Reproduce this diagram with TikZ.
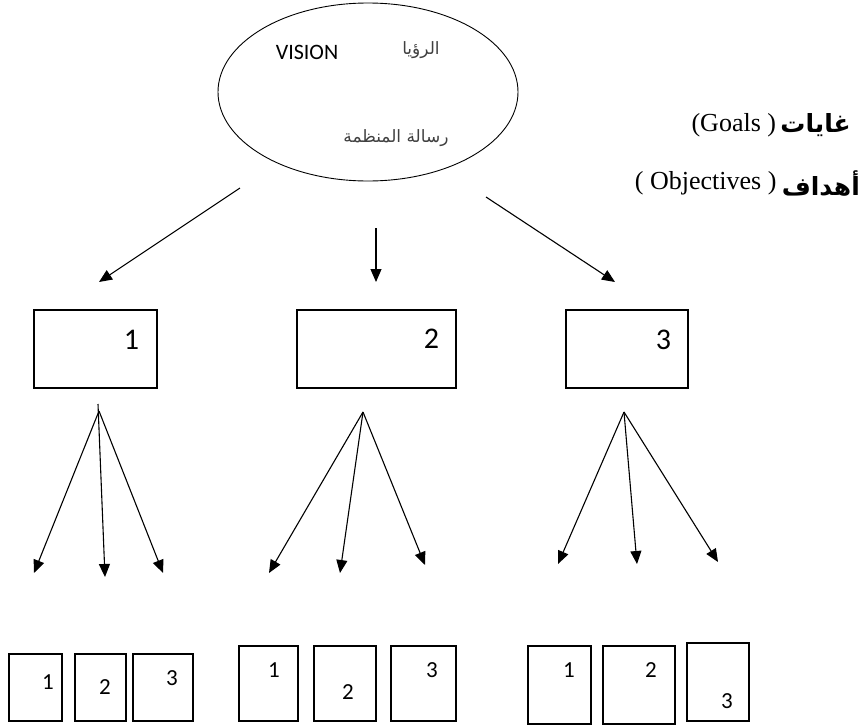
\documentclass[tikz,border=0pt]{standalone}
\usepackage{fontspec}
\setmainfont{Liberation Serif}
\setsansfont{Carlito}
\newfontfamily\arabicfont[Script=Arabic]{DejaVu Sans}
\TeXXeTstate=1
\usetikzlibrary{shapes.geometric,arrows.meta,positioning}

\tikzstyle{visionshape}=[ellipse, draw=black, line width=0.9pt, minimum width=300pt, minimum height=178pt, inner sep=0pt]
\tikzstyle{goalbox}=[rectangle, draw=black, line width=1.1pt, minimum height=78pt, inner sep=0pt]
\tikzstyle{objbox}=[rectangle, draw=black, line width=1.1pt, inner sep=0pt]
\tikzstyle{bignum}=[font=\sffamily\fontsize{30}{30}\selectfont, inner sep=0pt]
\tikzstyle{smallnum}=[font=\sffamily\fontsize{23}{23}\selectfont, inner sep=0pt]
\tikzstyle{sidetext}=[font=\fontsize{26}{26}\selectfont, inner sep=0pt]
\tikzstyle{sidear}=[font=\arabicfont\bfseries\fontsize{25}{25}\selectfont, inner sep=0pt, anchor=east]
\tikzstyle{arrow2}=[line width=1.1pt,-{Triangle[length=13pt,width=11pt]}]

\begin{document}
\begin{tikzpicture}[x=1pt, y=-1pt]
\useasboundingbox (0,0) rectangle (860,726);
\node (vision) [visionshape] at (368,92) {};
\node (visionen) at (307,52) [font=\sffamily\fontsize{22}{22}\selectfont] {VISION};
\node (visionar) at (421,50) [font=\arabicfont\fontsize{17}{17}\selectfont, text=black!75] {\beginR الرؤيا\endR};
\node (mission) at (396,138) [font=\arabicfont\fontsize{17}{17}\selectfont, text=black!75] {\beginR رسالة المنظمة\endR};
\node (goalsar) [sidear] at (851,125) {\beginR غايات\endR};
\node (goalsen) [sidetext, left=4pt of goalsar] {(Goals )};
\node (objectivesar) [sidear] at (860,183) {\beginR أهداف\endR};
\node (objectivesen) [sidetext, left=5pt of objectivesar] {( Objectives )};

% goals
\node (goal1) [goalbox, minimum width=123pt] at (95.5,349) {};
\node (goal2) [goalbox, minimum width=159pt] at (376.5,349) {};
\node (goal3) [goalbox, minimum width=122pt] at (627,349) {};
\node (num1) [bignum] at ([xshift=-26pt,yshift=-30pt]goal1.north east) {1};
\node (num2) [bignum] at ([xshift=-25pt,yshift=-29pt]goal2.north east) {2};
\node (num3) [bignum] at ([xshift=-25pt,yshift=-30pt]goal3.north east) {3};

\coordinate (s1) at (240,188);
\coordinate (e1) at (99,282);
\coordinate (s2) at (376,228);
\coordinate (e2) at (376,282);
\coordinate (s3) at (486,197);
\coordinate (e3) at (615,282);
\draw[arrow2](s1)--(e1);
\draw[arrow2](s2)--(e2);
\draw[arrow2](s3)--(e3);

% objectives
\coordinate (top1) at (98,404);
\coordinate (fan1) at (99,411);
\coordinate (fan2) at (363,412);
\coordinate (fan3) at (624,412);
\coordinate (tip11) at (34,573);
\coordinate (tip12) at (105,577);
\coordinate (tip13) at (163,573);
\coordinate (tip21) at (269,573);
\coordinate (tip22) at (340,573);
\coordinate (tip23) at (425,565);
\coordinate (tip31) at (558,564);
\coordinate (tip32) at (637,564);
\coordinate (tip33) at (718,562);
\draw[arrow2](fan1)--(tip11);
\draw[arrow2](top1)--(tip12);
\draw[arrow2](fan1)--(tip13);
\draw[arrow2](fan2)--(tip21);
\draw[arrow2](fan2)--(tip22);
\draw[arrow2](fan2)--(tip23);
\draw[arrow2](fan3)--(tip31);
\draw[arrow2](fan3)--(tip32);
\draw[arrow2](fan3)--(tip33);

\node (obj11) [objbox, minimum width=53pt, minimum height=67pt] at (35.5,687.5) {};
\node (obj12) [objbox, minimum width=51pt, minimum height=67pt] at (100.5,687.5) {};
\node (obj13) [objbox, minimum width=60pt, minimum height=67pt] at (163,687.5) {};
\node (obj21) [objbox, minimum width=59pt, minimum height=75pt] at (268.5,683.5) {};
\node (obj22) [objbox, minimum width=62pt, minimum height=75pt] at (345,683.5) {};
\node (obj23) [objbox, minimum width=65pt, minimum height=75pt] at (423.5,683.5) {};
\node (obj31) [objbox, minimum width=63pt, minimum height=78pt] at (559.5,685) {};
\node (obj32) [objbox, minimum width=72pt, minimum height=78pt] at (639,685) {};
\node (obj33) [objbox, minimum width=62pt, minimum height=78pt] at (718,682) {};
\node (n11) [smallnum] at (48,682) {1};
\node (n12) [smallnum] at (105,687) {2};
\node (n13) [smallnum] at (172,678) {3};
\node (n21) [smallnum] at (274,670) {1};
\node (n22) [smallnum] at (348,692) {2};
\node (n23) [smallnum] at (432,670) {3};
\node (n31) [smallnum] at (569,670) {1};
\node (n32) [smallnum] at (651,670) {2};
\node (n33) [smallnum] at (727,701) {3};
\end{tikzpicture}
\end{document}
